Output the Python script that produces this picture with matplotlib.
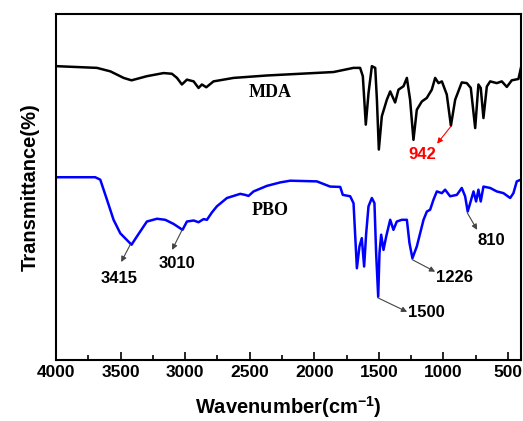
import matplotlib
matplotlib.use('Agg')
import matplotlib.pyplot as plt

plt.rcParams['mathtext.fontset'] = 'custom'
plt.rcParams['mathtext.rm'] = 'Liberation Sans:bold'
plt.rcParams['mathtext.bf'] = 'Liberation Sans:bold'

# MDA spectrum (wavenumber, transmittance in arbitrary %)
mda_wn = [4000, 3683, 3579, 3476, 3415, 3296, 3167, 3102, 3063, 3025, 2986, 2934, 2896, 2870,
          2836, 2780, 2625, 2367, 2109, 1851, 1696, 1645, 1624, 1601, 1580, 1554, 1528, 1515,
          1500, 1477, 1438, 1412, 1374, 1348, 1309, 1283, 1258, 1232, 1206, 1167, 1129, 1090,
          1064, 1038, 1012, 974, 942, 909, 858, 819, 788, 754, 729, 711, 690, 664, 638, 587,
          548, 509, 471, 419, 400]
mda_t = [84.9, 84.4, 83.4, 81.5, 80.8, 82.0, 82.9, 82.7, 81.5, 79.6, 81.0, 80.5, 78.6, 79.6,
         78.8, 80.5, 81.5, 82.2, 82.7, 83.2, 84.4, 84.4, 82.0, 68.0, 77.1, 84.9, 84.4, 75.2,
         60.8, 70.4, 75.2, 77.6, 74.4, 78.1, 79.1, 81.5, 75.2, 63.6, 72.3, 74.7, 75.7, 78.1,
         81.5, 80.0, 80.5, 76.7, 67.7, 75.2, 80.2, 80.0, 78.6, 67.0, 79.6, 78.6, 69.9, 79.0,
         80.5, 80.0, 80.5, 78.9, 80.8, 81.2, 84.4]

# PBO spectrum
pbo_wn = [4000, 3696, 3657, 3605, 3554, 3502, 3415, 3373, 3296, 3218, 3154, 3089, 3020, 2986,
          2934, 2896, 2857, 2831, 2793, 2754, 2676, 2573, 2535, 2509, 2470, 2367, 2264, 2186,
          1980, 1877, 1799, 1779, 1722, 1696, 1670, 1650, 1632, 1614, 1598, 1580, 1554, 1534,
          1521, 1505, 1495, 1482, 1464, 1443, 1412, 1387, 1361, 1322, 1283, 1263, 1240, 1206,
          1154, 1128, 1103, 1077, 1051, 1012, 987, 948, 896, 858, 832, 812, 793, 767, 747,
          729, 711, 690, 638, 587, 535, 483, 458, 432, 400]
pbo_t = [52.8, 52.8, 52.1, 46.3, 40.5, 36.6, 33.3, 35.7, 40.0, 40.8, 40.5, 39.3, 37.6, 40.0,
         40.3, 39.8, 40.7, 40.5, 42.6, 44.4, 46.8, 48.0, 47.7, 47.4, 48.7, 50.3, 51.3, 51.8,
         51.6, 50.1, 50.0, 47.7, 47.3, 45.3, 26.5, 32.8, 35.2, 27.0, 36.6, 44.4, 46.8, 45.3,
         30.9, 18.3, 30.9, 36.2, 31.8, 35.7, 40.5, 37.6, 40.0, 40.5, 40.5, 33.8, 29.4, 32.8,
         40.5, 42.9, 43.4, 46.3, 48.7, 48.2, 49.2, 47.3, 47.7, 49.7, 47.3, 42.9, 45.3, 48.7,
         45.8, 49.2, 45.8, 50.1, 49.7, 48.7, 48.2, 46.8, 48.2, 51.6, 52.1]

# peak labels: text, peak point, arrow head, text position, colour, alignment
peaks = [
    ('3415', (3425, 33.3), (3495, 28.3), (3510, 23.5), 'black', 'center'),
    ('3010', (3023, 37.6), (3101, 31.8), (3062, 28.0), 'black', 'center'),
    ('1500', (1510, 18.0), (1281, 13.9), (1275, 13.6), 'black', 'left'),
    ('1226', (1242, 29.0), (1064, 25.5), (1058, 23.7), 'black', 'left'),
    ('810', (815, 42.5), (739, 37.6), (735, 34.4), 'black', 'left'),
    ('942', (942, 67.5), (1049, 62.5), (1165, 59.3), '#FF0000', 'center'),
]

fig = plt.figure(figsize=(5.23, 4.21), dpi=100)
ax = fig.add_axes([0.107, 0.145, 0.889, 0.822])

ax.plot(mda_wn, mda_t, color='black', lw=1.8)
ax.plot(pbo_wn, pbo_t, color='#0000FF', lw=1.8)

ax.text(2341, 77.3, 'MDA', family='Liberation Serif', fontweight='bold', fontsize=13,
        ha='center', va='center')
ax.text(2341, 43.2, 'PBO', family='Liberation Serif', fontweight='bold', fontsize=13,
        ha='center', va='center')

for label, tip, head, pos, col, align in peaks:
    arrow_col = '#444444' if col == 'black' else col
    ax.annotate('', xy=head, xytext=tip,
                arrowprops=dict(arrowstyle='-|>', color=arrow_col, lw=0.8, mutation_scale=8,
                                shrinkA=0, shrinkB=0))
    ax.text(pos[0], pos[1], label, color=col, family='Liberation Sans', fontweight='bold',
            fontsize=12, ha=align, va='center')

ax.set_xlim(4000, 400)
ax.set_ylim(0, 100)
ax.set_xticks([4000, 3500, 3000, 2500, 2000, 1500, 1000, 500])
ax.set_xticks([3750, 3250, 2750, 2250, 1750, 1250, 750], minor=True)
ax.set_yticks([])
ax.tick_params(axis='x', which='major', direction='in', length=6, width=1.2, top=False)
ax.tick_params(axis='x', which='minor', direction='in', length=3.5, width=1.2, top=False)
for lab in ax.get_xticklabels():
    lab.set_family('Liberation Sans')
    lab.set_fontweight('bold')
    lab.set_fontsize(12.5)
for sp in ax.spines.values():
    sp.set_linewidth(1.5)

ax.set_xlabel('Wavenumber(cm$^{\\mathbf{-1}}$)', family='Liberation Sans', fontweight='bold',
              fontsize=14.5, labelpad=10)
ax.set_ylabel('Transmittance(%)', family='Liberation Sans', fontweight='bold', fontsize=14.5,
              labelpad=12)

fig.savefig('out.png', dpi=100)
